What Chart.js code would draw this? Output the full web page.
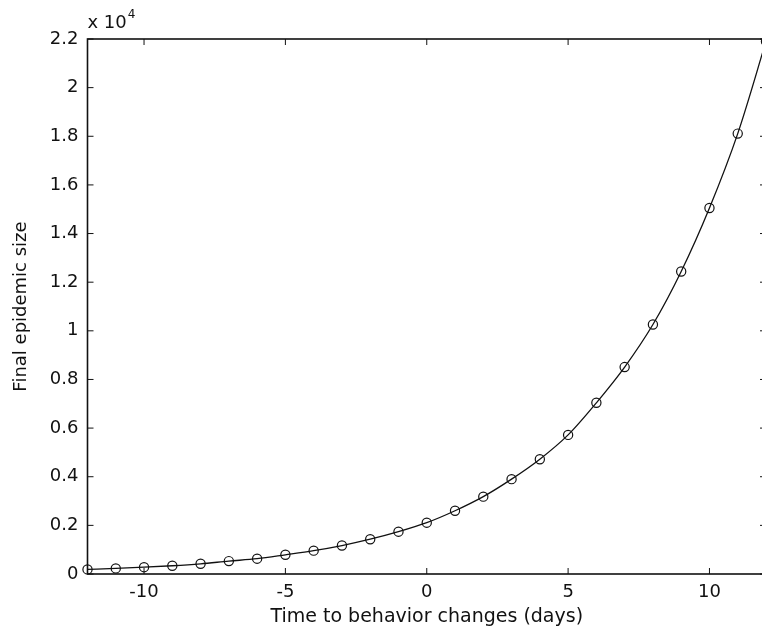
<!DOCTYPE html>
<html>
<head>
<meta charset="utf-8">
<script src="https://cdn.jsdelivr.net/npm/chart.js@4"></script>
<style>
  body { margin: 0; overflow: hidden; background: #fff; }
</style>
</head>
<body>
<canvas id="myChart" width="780" height="634"></canvas>
<script>
// days relative to behaviour change, final size
const days = [-12, -11, -10, -9, -8, -7, -6, -5, -4, -3, -2, -1, 0, 1, 2, 3, 4, 5, 6, 7, 8, 9, 10, 11, 12];
const finalSize = [190, 230, 280, 340, 420, 530, 630, 790, 960, 1170, 1430, 1740, 2110, 2600, 3180, 3900, 4720, 5720, 7040, 8510, 10260, 12440, 15050, 18110, 21900];
const xTicks = [-10, -5, 0, 5, 10];
const yTicks = [0, 2000, 4000, 6000, 8000, 10000, 12000, 14000, 16000, 18000, 20000, 22000];

const ink = "#111";
const fontFam = "'DejaVu Sans', sans-serif";

const points = days.map((d, i) => ({ x: d, y: finalSize[i] }));

// matlab-ish box with inward ticks on all four sides + the "x 10^4" exponent
const boxPlugin = {
  id: "box",
  beforeDatasetsDraw(chart) {
    const { ctx, chartArea: a, scales } = chart;
    ctx.save();
    ctx.strokeStyle = ink;
    ctx.lineWidth = 1.6;
    ctx.strokeRect(a.left, a.top, a.right - a.left, a.bottom - a.top);
    ctx.beginPath();
    scales.x.ticks.forEach((t) => {
      const px = scales.x.getPixelForValue(t.value);
      ctx.moveTo(px, a.bottom); ctx.lineTo(px, a.bottom - 6);
      ctx.moveTo(px, a.top); ctx.lineTo(px, a.top + 6);
    });
    scales.y.ticks.forEach((t) => {
      const py = scales.y.getPixelForValue(t.value);
      ctx.moveTo(a.left, py); ctx.lineTo(a.left + 6, py);
      ctx.moveTo(a.right, py); ctx.lineTo(a.right - 6, py);
    });
    ctx.lineWidth = 1;
    ctx.stroke();

    ctx.fillStyle = ink;
    ctx.textBaseline = "alphabetic";
    ctx.textAlign = "left";
    ctx.font = "18px " + fontFam;
    ctx.fillText("x 10", a.left, a.top - 11);
    const w = ctx.measureText("x 10").width;
    ctx.font = "12px " + fontFam;
    ctx.fillText("4", a.left + w + 1, a.top - 21);
    ctx.restore();
  },
};

new Chart(document.getElementById("myChart"), {
  type: "line",
  data: {
    datasets: [
      {
        data: points,
        borderColor: ink,
        borderWidth: 1.3,
        cubicInterpolationMode: "monotone",
        pointStyle: "circle",
        pointRadius: 4.6,
        pointBorderWidth: 1.2,
        pointBorderColor: ink,
        pointBackgroundColor: "rgba(0,0,0,0)",
        fill: false,
        clip: false,
      },
    ],
  },
  options: {
    responsive: false,
    animation: false,
    events: [],
    layout: { padding: { top: 39, right: 14, left: 0, bottom: 0 } },
    plugins: { legend: { display: false }, tooltip: { enabled: false } },
    scales: {
      x: {
        type: "linear",
        min: -12,
        max: 12,
        afterBuildTicks: (s) => { s.ticks = xTicks.map((v) => ({ value: v })); },
        afterFit: (s) => { s.height = 60; },
        grid: { display: false, drawTicks: false },
        border: { display: false },
        ticks: {
          padding: 8,
          color: ink,
          font: { family: fontFam, size: 18 },
          maxRotation: 0,
          callback: (v) => String(v),
        },
        title: {
          display: true,
          text: "Time to behavior changes (days)",
          color: ink,
          font: { family: fontFam, size: 19 },
          padding: { top: 0, bottom: 6 },
        },
      },
      y: {
        min: 0,
        max: 22000,
        afterBuildTicks: (s) => { s.ticks = yTicks.map((v) => ({ value: v })); },
        afterFit: (s) => { s.width = 87.5; },
        grid: { display: false, drawTicks: false },
        border: { display: false },
        ticks: {
          padding: 9,
          color: ink,
          font: { family: fontFam, size: 18 },
          callback: (v) => String(+(v / 10000).toFixed(1)),
        },
        title: {
          display: true,
          text: "Final epidemic size",
          color: ink,
          font: { family: fontFam, size: 18 },
          padding: { top: 11, bottom: 0 },
        },
      },
    },
  },
  plugins: [boxPlugin],
});
</script>
</body>
</html>
